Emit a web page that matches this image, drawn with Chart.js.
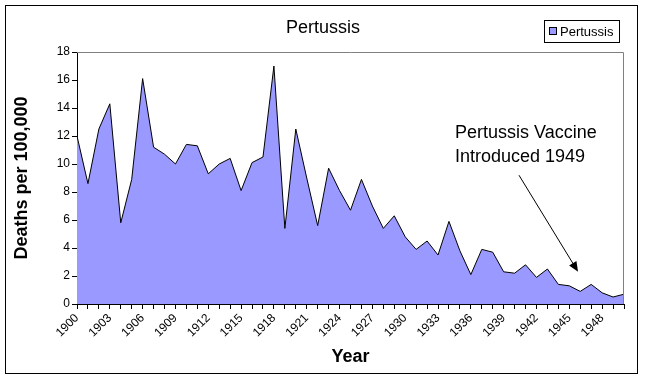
<!DOCTYPE html>
<html>
<head>
<meta charset="utf-8">
<script src="https://cdn.jsdelivr.net/npm/chart.js@4"></script>
<style>
  body { margin: 0; background: #fff; }
  canvas { display: block; }
</style>
</head>
<body>
<canvas id="chart" width="645" height="379" style="width:645px;height:379px"></canvas>
<script>
// data
const years = [
  '1900', '1901', '1902', '1903', '1904', '1905', '1906', '1907', '1908', '1909',
  '1910', '1911', '1912', '1913', '1914', '1915', '1916', '1917', '1918', '1919',
  '1920', '1921', '1922', '1923', '1924', '1925', '1926', '1927', '1928', '1929',
  '1930', '1931', '1932', '1933', '1934', '1935', '1936', '1937', '1938', '1939',
  '1940', '1941', '1942', '1943', '1944', '1945', '1946', '1947', '1948', '1949',
  '1950'
];
const deaths = [
  12.0, 8.6, 12.5, 14.3, 5.8, 8.9, 16.1, 11.2, 10.7, 10.0,
  11.4, 11.3, 9.3, 10.0, 10.4, 8.1, 10.1, 10.5, 17.0, 5.4,
  12.5, 9.0, 5.6, 9.7, 8.1, 6.7, 8.9, 7.0, 5.4, 6.3,
  4.8, 3.9, 4.5, 3.5, 5.9, 3.8, 2.1, 3.9, 3.7, 2.3,
  2.2, 2.8, 1.9, 2.5, 1.4, 1.3, 0.9, 1.4, 0.8, 0.5,
  0.7
];
const shownYearLabels = [
  '1900', '1903', '1906', '1909', '1912', '1915', '1918', '1921', '1924',
  '1927', '1930', '1933', '1936', '1939', '1942', '1945', '1948'
];
const yTicks = [0, 2, 4, 6, 8, 10, 12, 14, 16, 18];

// annotation: text lines, and arrow from (index, value) to (index, value)
const noteLines = ['Pertussis Vaccine', 'Introduced 1949'];
const arrowFrom = [40.4, 9.2];
const arrowTo = [45.8, 2.3];

const FONT = '"Liberation Sans", Arial, sans-serif';
const AREA = '#9999ff';

// draws the frame, plot border, title, legend and the vaccine note
const decorations = {
  id: 'decorations',
  afterDraw(chart) {
    const { ctx, chartArea: a, scales } = chart;
    ctx.save();

    // outer frame
    ctx.strokeStyle = '#000';
    ctx.lineWidth = 1;
    ctx.strokeRect(5.5, 5.5, 632, 368);

    // grey plot border on top and right
    ctx.strokeStyle = '#808080';
    ctx.beginPath();
    ctx.moveTo(a.left, a.top + 0.5);
    ctx.lineTo(a.right - 0.5, a.top + 0.5);
    ctx.lineTo(a.right - 0.5, a.bottom);
    ctx.stroke();

    // title
    ctx.fillStyle = '#000';
    ctx.font = '18px ' + FONT;
    ctx.textAlign = 'center';
    ctx.textBaseline = 'middle';
    ctx.fillText('Pertussis', 323, 28);

    // legend
    ctx.strokeStyle = '#000';
    ctx.strokeRect(544.5, 20.5, 75, 22);
    ctx.fillStyle = AREA;
    ctx.fillRect(549, 27, 8, 8);
    ctx.strokeRect(549.5, 27.5, 7, 7);
    ctx.fillStyle = '#000';
    ctx.font = '13px ' + FONT;
    ctx.textAlign = 'left';
    ctx.fillText(chart.data.datasets[0].label, 560, 32);

    // vaccine note
    ctx.font = '18px ' + FONT;
    ctx.textBaseline = 'alphabetic';
    noteLines.forEach((line, i) => ctx.fillText(line, 455, 138 + i * 24));

    // arrow
    const x0 = scales.x.getPixelForValue(arrowFrom[0]);
    const y0 = scales.y.getPixelForValue(arrowFrom[1]);
    const x1 = scales.x.getPixelForValue(arrowTo[0]);
    const y1 = scales.y.getPixelForValue(arrowTo[1]);
    const ang = Math.atan2(y1 - y0, x1 - x0);
    const head = 11;
    ctx.beginPath();
    ctx.moveTo(x0, y0);
    ctx.lineTo(x1 - Math.cos(ang) * head * 0.8, y1 - Math.sin(ang) * head * 0.8);
    ctx.stroke();
    ctx.beginPath();
    ctx.moveTo(x1, y1);
    ctx.lineTo(x1 - head * Math.cos(ang - 0.4), y1 - head * Math.sin(ang - 0.4));
    ctx.lineTo(x1 - head * Math.cos(ang + 0.4), y1 - head * Math.sin(ang + 0.4));
    ctx.closePath();
    ctx.fill();

    ctx.restore();
  }
};

new Chart(document.getElementById('chart'), {
  type: 'line',
  data: {
    labels: years,
    datasets: [{
      label: 'Pertussis',
      data: deaths,
      fill: 'origin',
      backgroundColor: AREA,
      borderColor: '#000',
      borderWidth: 1,
      pointRadius: 0,
      tension: 0
    }]
  },
  options: {
    responsive: false,
    animation: false,
    layout: { padding: { top: 52, right: 21, left: 0, bottom: 0 } },
    plugins: {
      legend: { display: false },
      title: { display: false },
      tooltip: { enabled: false }
    },
    scales: {
      x: {
        offset: false,
        afterFit: (s) => { s.height = 75; },
        grid: { drawOnChartArea: false, color: '#000', tickLength: 5 },
        border: { color: '#000' },
        ticks: {
          autoSkip: false,
          maxRotation: 45,
          minRotation: 45,
          padding: 2,
          color: '#000',
          font: { family: FONT, size: 12 },
          callback: (v, i) => shownYearLabels.includes(years[i]) ? years[i] : ''
        },
        title: {
          display: true,
          text: 'Year',
          color: '#000',
          font: { family: FONT, size: 18, weight: 'bold' },
          padding: { top: 0, bottom: 11 }
        }
      },
      y: {
        min: 0,
        max: 18,
        afterFit: (s) => { s.width = 77; },
        afterBuildTicks: (s) => { s.ticks = yTicks.map(v => ({ value: v })); },
        grid: { drawOnChartArea: false, color: '#000', tickLength: 5 },
        border: { color: '#000' },
        ticks: {
          padding: 2,
          color: '#000',
          font: { family: FONT, size: 12 }
        },
        title: {
          display: true,
          text: 'Deaths per 100,000',
          color: '#000',
          font: { family: FONT, size: 18, weight: 'bold' },
          padding: { top: 11, bottom: 0 }
        }
      }
    }
  },
  plugins: [decorations]
});
</script>
</body>
</html>
